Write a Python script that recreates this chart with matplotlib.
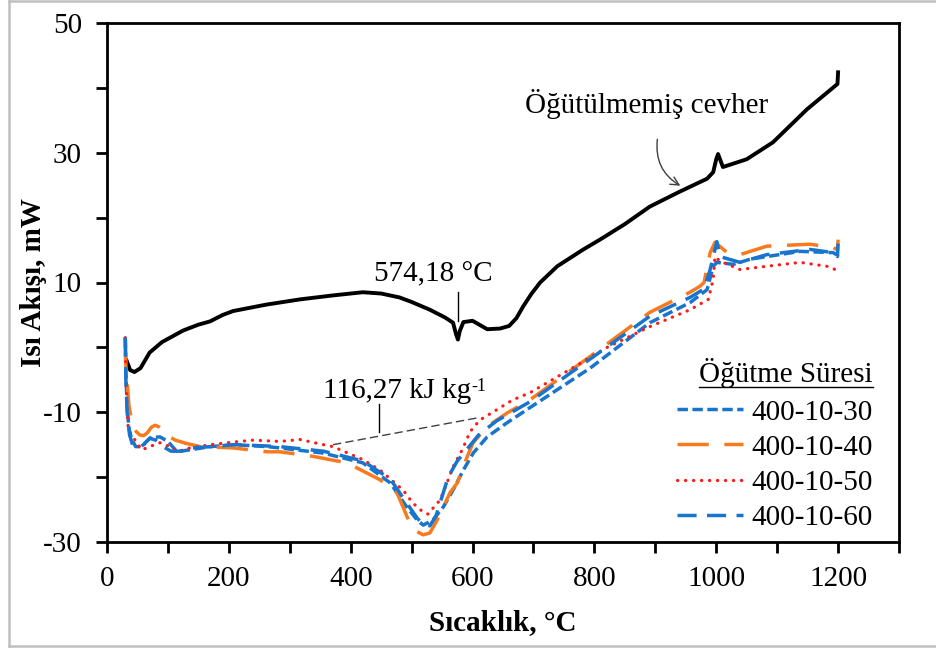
import matplotlib
matplotlib.use("Agg")
import matplotlib.pyplot as plt
from matplotlib.lines import Line2D
from matplotlib.patches import FancyArrowPatch
from matplotlib.ticker import MultipleLocator

plt.rcParams['font.family'] = ['Liberation Serif', 'DejaVu Serif']
plt.rcParams['axes.unicode_minus'] = False

# unground ore (black)
raw_t = [32, 38, 45, 55, 70, 90, 125, 150, 169, 190, 207, 262, 317, 370, 420, 450,
         480, 500, 530, 555, 568, 573, 576, 579, 585, 600, 624, 645, 660, 672, 683,
         697, 711, 739, 782, 809, 850, 891, 940, 985, 995, 1000, 1003, 1007, 1011,
         1050, 1093, 1149, 1199, 1200]
raw_q = [-2.0, -3.5, -3.8, -3.2, -0.8, 0.8, 2.6, 3.5, 4.0, 5.0, 5.6, 6.6, 7.4, 8.0, 8.5, 8.3,
         7.7, 7.0, 5.8, 4.6, 3.8, 2.0, 1.2, 2.5, 3.9, 4.1, 2.8, 2.9, 3.3, 4.5, 6.3,
         8.3, 10.0, 12.5, 15.1, 16.6, 19.0, 21.7, 24.0, 26.0, 27.0, 29.0, 29.8, 28.8, 27.8,
         29.0, 31.6, 36.7, 40.6, 42.4]

# 400-10-30
t30 = [30, 31, 33, 36, 40, 47, 57, 65, 72, 87, 100, 115, 135, 170, 210, 263, 284, 355,
       420, 465, 492, 509, 519, 535, 552, 568, 585, 601, 624, 657, 694, 793, 891, 957,
       985, 995, 1001, 1028, 1056, 1138, 1192, 1199, 1200]
q30 = [1.5, -4.0, -9.0, -12.5, -14.0, -15.3, -15.3, -14.5, -13.9, -13.8, -14.5, -16.1,
       -15.8, -15.3, -15.0, -15.3, -15.5, -16.3, -17.8, -20.9, -24.6, -26.6, -27.4,
       -26.6, -24.6, -22.0, -18.9, -16.3, -13.8, -11.6, -9.3, -3.2, 3.8, 6.9, 8.9, 12.5,
       13.1, 12.8, 13.6, 14.8, 14.6, 14.2, 13.5]

# 400-10-40
t40 = [30, 31, 33, 36, 41, 48, 54, 60, 66, 73, 79, 86, 92, 103, 112, 130, 153, 207,
       263, 284, 338, 394, 448, 476, 497, 509, 519, 530, 542, 552, 563, 575, 583, 591,
       601, 624, 657, 694, 793, 891, 957, 973, 980, 990, 998, 1018, 1039, 1083, 1154,
       1192, 1199, 1200]
q40 = [1.5, -3.0, -5.0, -9.0, -11.6, -13.0, -13.5, -13.6, -13.2, -12.3, -12.0, -12.3,
       -12.8, -13.8, -14.3, -14.8, -15.3, -15.5, -16.1, -16.1, -16.8, -17.8, -20.4,
       -22.4, -27.1, -28.4, -28.9, -28.6, -26.6, -24.6, -22.4, -20.9, -18.9, -16.9,
       -14.7, -12.2, -10.1, -8.1, -1.4, 5.4, 8.5, 9.4, 10.0, 14.6, 16.2, 14.6, 14.3,
       15.6, 15.9, 15.4, 15.0, 16.6]

# 400-10-50
t50 = [30, 31, 33, 35, 46, 57, 70, 87, 103, 117, 136, 170, 207, 240, 284, 317, 355,
       371, 420, 448, 486, 502, 519, 527, 535, 547, 558, 568, 583, 596, 612, 640, 666,
       694, 760, 821, 891, 957, 987, 995, 998, 1006, 1039, 1083, 1138, 1182, 1198, 1200]
q50 = [1.5, -5.0, -9.6, -12.7, -14.3, -15.8, -15.3, -14.7, -15.3, -16.1, -15.5, -15.0,
       -14.6, -14.3, -14.5, -14.2, -15.0, -15.3, -17.3, -18.9, -22.0, -24.0, -25.4,
       -25.7, -24.8, -23.5, -20.9, -18.4, -15.8, -13.0, -11.2, -9.6, -8.1, -7.0, -3.4,
       0.0, 3.2, 5.8, 7.4, 10.5, 14.0, 13.3, 12.0, 12.5, 13.1, 12.5, 11.9, 11.5]

# 400-10-60
t60 = [30, 31, 33, 37, 42, 50, 60, 70, 80, 92, 105, 120, 140, 170, 210, 263, 284, 355,
       420, 465, 492, 509, 519, 530, 540, 550, 560, 575, 590, 610, 640, 694, 793, 891,
       957, 980, 990, 1001, 1006, 1039, 1083, 1154, 1192, 1199, 1200]
q60 = [1.5, -5.0, -10.0, -13.5, -15.0, -15.5, -15.0, -14.0, -14.3, -15.3, -16.0, -16.0,
       -15.5, -15.3, -15.0, -15.2, -15.3, -16.0, -17.5, -20.3, -24.0, -26.3, -27.3,
       -27.5, -26.0, -23.0, -20.0, -17.5, -15.8, -13.5, -11.3, -8.4, -1.8, 4.8, 7.7,
       9.0, 12.0, 16.3, 14.0, 13.1, 14.3, 15.1, 14.6, 14.0, 16.0]

labels = ['400-10-30', '400-10-40', '400-10-50', '400-10-60']

blue = '#1874CD'
orange = '#F87A1E'
red = '#FF1A1A'
FS = 21

fig = plt.figure(figsize=(9.37, 6.53), dpi=100)
ax = fig.add_axes([107 / 937, 1 - 542 / 653, 792 / 937, 519 / 653])

ax.plot(raw_t, raw_q, color='black', lw=2.8, solid_joinstyle='round')
ax.plot(t30, q30, color=blue, lw=2.5, linestyle=(0, (3, 1.3)), label=labels[0])
ax.plot(t40, q40, color=orange, lw=2.5, linestyle=(0, (9, 4.5)), label=labels[1])
ax.plot(t50, q50, color=red, lw=2.3, linestyle=(0, (0.1, 2.4)),
        dash_capstyle='round', label=labels[2])
ax.plot(t60, q60, color=blue, lw=2.5, linestyle=(0, (5.5, 3)), label=labels[3])

ax.set_xlim(0, 1300)
ax.set_ylim(-30, 50)
ax.set_xticks(range(0, 1201, 200))
ax.xaxis.set_minor_locator(MultipleLocator(100))
ax.set_yticks([-30, -10, 10, 30, 50])
ax.yaxis.set_minor_locator(MultipleLocator(10))
ax.tick_params(which='both', direction='out', length=8, width=2, labelsize=FS)
ax.tick_params(axis='x', pad=9)
ax.tick_params(axis='y', pad=10)
for s in ax.spines.values():
    s.set_linewidth(2)

ax.set_xlabel('Sıcaklık, °C', fontsize=FS, fontweight='bold')
ax.set_ylabel('Isı Akışı, mW', fontsize=FS, fontweight='bold')
ax.xaxis.set_label_coords(0.5, -0.13)
ax.yaxis.set_label_coords(-0.076, 0.5)

# annotations
ax.text(535, 11.2, '574,18 °C', fontsize=FS, ha='center', va='center')
ax.plot([576, 576], [8.5, 4.0], color='black', lw=1)
t = ax.text(476, -6.8, '116,27 kJ kg', fontsize=FS, ha='center', va='center')
ax.annotate('-1', xy=(1, 1.02), xycoords=t, ha='left', va='top', fontsize=13)
ax.plot([446, 446], [-8.8, -13.0], color='black', lw=1)
ax.plot([371, 612], [-15.0, -10.8], color='#404040', lw=1, linestyle=(0, (6, 3)))
ax.text(885, 37.5, 'Öğütülmemiş cevher', fontsize=FS, ha='center', va='center')
arr = FancyArrowPatch((904, 32.5), (945, 24.7), connectionstyle='arc3,rad=0.35',
                      arrowstyle='->,head_length=6,head_width=3', color='#404040', lw=1)
ax.add_patch(arr)

leg = ax.legend(loc='upper left', bbox_to_anchor=(677 / 937, 1 - 358 / 653),
                bbox_transform=fig.transFigure, frameon=False, fontsize=FS,
                handlelength=2.25, handletextpad=0.3, labelspacing=0.3,
                borderpad=0, borderaxespad=0, title='Öğütme Süresi',
                title_fontsize=FS, alignment='right')
leg._legend_box.sep = 8

# gray chart border
border = dict(color='#BFBFBF', lw=1.8, transform=fig.transFigure)
fig.add_artist(Line2D([9 / 937, 9 / 937], [1 - 646 / 653, 1 - 1 / 653], **border))
fig.add_artist(Line2D([9 / 937, 1], [1 - 1 / 653, 1 - 1 / 653], **border))
fig.add_artist(Line2D([9 / 937, 1], [1 - 646 / 653, 1 - 646 / 653], **border))

# underline the legend title
fig.canvas.draw()
bb = leg.get_title().get_window_extent()
W, H = fig.bbox.width, fig.bbox.height
fig.add_artist(Line2D([bb.x0 / W, bb.x1 / W], [(bb.y0 + 1) / H, (bb.y0 + 1) / H],
                      color='black', lw=1, transform=fig.transFigure))

fig.savefig('out.png', dpi=100)
